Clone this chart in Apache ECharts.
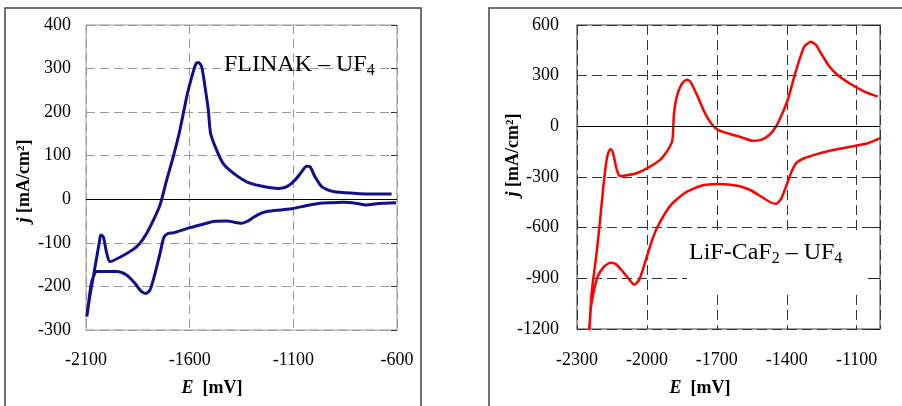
<!DOCTYPE html>
<html>
<head>
<meta charset="utf-8">
<script src="https://cdn.jsdelivr.net/npm/echarts@6/dist/echarts.min.js"></script>
<style>
html,body{margin:0;padding:0;background:#fff;}
#c{width:902px;height:406px;}
</style>
</head>
<body>
<div id="c"></div>
<script>
// ---------- FLINAK – UF4 (left panel) ----------
// sweep order: cathodic branch (right -> left), then anodic branch (left -> right)
const flinakE = [-605,-660,-700,-746,-800,-859,-907,-971,-1040,-1100,-1150,-1228,-1270,-1300,-1320,-1349,-1421,-1486,-1518,-1598,-1679,-1703,-1724,-1743,-1767,-1791,-1811,-1832,-1864,-1904,-1952,-2000,-2048,-2065,-2075,-2084,-2096,
  -2084,-2073,-2060,-2048,-2036,-2029,-2017,-2008,-2000,-1984,-1936,-1872,-1840,-1807,-1775,-1746,-1735,-1711,-1679,-1647,-1614,-1590,-1569,-1558,-1542,-1526,-1510,-1499,-1470,-1438,-1389,-1325,-1261,-1172,-1132,-1092,-1060,-1036,-1020,-996,-963,-907,-811,-700,-626];
const flinakJ = [-8,-9,-10,-13,-9,-7,-8,-9,-15,-21,-24,-28,-35,-44,-50,-55,-50,-51,-55,-65,-77,-78,-87,-124,-170,-208,-216,-212,-193,-174,-166,-166,-166,-178,-195,-224,-269,
  -230,-200,-165,-132,-100,-82,-86,-105,-124,-143,-133,-115,-101,-78,-48,-17,0,44,98,159,236,281,312,314,304,258,205,151,113,82,60,40,31,25,29,44,63,76,75,52,29,18,14,12,12];

// ---------- LiF-CaF2 – UF4 (right panel) ----------
const lifE = [-1000,-1053,-1124,-1196,-1267,-1325,-1360,-1382,-1403,-1425,-1446,-1468,-1511,-1553,-1611,-1696,-1768,-1839,-1897,-1954,-1982,-2011,-2033,-2054,-2075,-2104,-2133,-2157,-2183,-2211,-2230,-2240,-2247,-2253,
  -2245,-2238,-2230,-2216,-2201,-2187,-2173,-2164,-2156,-2149,-2140,-2133,-2125,-2116,-2080,-2044,-1987,-1944,-1915,-1900,-1892,-1888,-1884,-1872,-1855,-1840,-1826,-1811,-1782,-1754,-1725,-1696,-1654,-1596,-1546,-1511,-1475,-1446,-1425,-1396,-1368,-1346,-1325,-1297,-1275,-1253,-1217,-1182,-1124,-1067,-1010];
const lifJ = [-70,-100,-120,-139,-163,-189,-218,-277,-356,-431,-459,-451,-415,-380,-352,-342,-352,-396,-465,-593,-691,-820,-908,-938,-908,-859,-816,-808,-829,-888,-989,-1067,-1204,-1290,
  -1150,-1000,-900,-752,-555,-357,-199,-150,-136,-145,-190,-238,-275,-294,-288,-278,-239,-199,-150,-115,-90,-40,77,176,240,268,276,259,176,87,18,-21,-41,-64,-86,-80,-51,-1,58,156,294,393,472,501,482,432,354,304,249,206,176];

// axis ticks
const flinakXTicks = {min:-2100, max:-600, interval:500};
const flinakYTicks = {min:-300, max:400, interval:100};
const lifXTicks = {min:-2300, max:-1000, interval:300};
const lifYTicks = {min:-1200, max:600, interval:300};

const FONT = '"Liberation Serif","Times New Roman",serif';
const pairs = (xs, ys) => xs.map((x, i) => [x, ys[i]]);
const plain = v => String(v);

const chart = echarts.init(document.getElementById('c'), null, {renderer:'canvas'});

function xAx(grid, t, gridColor, dash, margin, hideMax){
  return {
    gridIndex: grid, type:'value', min:t.min, max:t.max, interval:t.interval,
    axisLine:{show:false}, axisTick:{show:false},
    axisLabel:{margin:margin, fontSize:18, color:'#000', fontFamily:FONT, showMaxLabel: !hideMax, formatter:plain},
    splitLine:{show:true, lineStyle:{color:gridColor, width:1, type:dash}}
  };
}
function yAx(grid, t, gridColor, dash, margin){
  return {
    gridIndex: grid, type:'value', min:t.min, max:t.max, interval:t.interval,
    axisLine:{show:false},
    axisTick:{show:false},
    axisLabel:{margin:margin, fontSize:18, color:'#000', fontFamily:FONT, formatter:plain},
    splitLine:{show:true, lineStyle:{color:gridColor, width:1, type:dash}}
  };
}
function yRight(grid, t, len, color){
  return {
    gridIndex: grid, type:'value', position:'right', min:t.min, max:t.max, interval:t.interval,
    axisLine:{show:false}, axisLabel:{show:false}, splitLine:{show:false},
    axisTick:{show:true, inside:true, length:len, lineStyle:{color:color, width:1}}
  };
}

const zeroLine = {
  silent:true, symbol:['none','none'], label:{show:false},
  lineStyle:{color:'#000', width:1, type:'solid'},
  data:[{yAxis:0}], animation:false
};

const titleRich = {
  e:{fontFamily:FONT, fontSize:18, fontWeight:'bold', fontStyle:'italic', fill:'#000'},
  b:{fontFamily:FONT, fontSize:18, fontWeight:'bold', fill:'#000'}
};
const annoRich = {
  m:{fontFamily:FONT, fontSize:24, lineHeight:27, fill:'#000'},
  s:{fontFamily:FONT, fontSize:16, lineHeight:16, verticalAlign:'bottom', fill:'#000'}
};

const option = {
  animation:false,
  backgroundColor:'#fff',
  grid:[
    {left:86, top:25, width:311, height:305, show:true, borderColor:'#999', borderWidth:1, backgroundColor:'transparent'},
    {left:577, top:25, width:303, height:304, show:true, borderColor:'#808080', borderWidth:1.5, backgroundColor:'transparent'}
  ],
  xAxis:[
    xAx(0, flinakXTicks, '#9a9a9a', [9,5], 21, false),
    xAx(1, lifXTicks, '#333', [10,5], 22, true)
  ],
  yAxis:[
    yAx(0, flinakYTicks, '#9a9a9a', [9,5], 15),
    yRight(0, flinakYTicks, 6, '#333'),
    yAx(1, lifYTicks, '#333', [10,5], 18),
    yRight(1, lifYTicks, 10, '#222')
  ],
  series:[
    {type:'line', xAxisIndex:0, yAxisIndex:0, data:pairs(flinakE, flinakJ), showSymbol:false, smooth:0.25,
     lineStyle:{color:'#10108a', width:3}, itemStyle:{color:'#10108a'}, clip:true, z:3, markLine:zeroLine},
    {type:'line', xAxisIndex:1, yAxisIndex:2, data:pairs(lifE, lifJ), showSymbol:false, smooth:0.2,
     lineStyle:{color:'#ff0000', width:2.5}, itemStyle:{color:'#ff0000'}, clip:true, z:3, markLine:zeroLine}
  ],
  graphic:[
    {type:'rect', z:0, silent:true, shape:{x:5, y:8, width:416, height:430}, style:{fill:'none', stroke:'#444', lineWidth:1.5}},
    {type:'rect', z:0, silent:true, shape:{x:489, y:8, width:460, height:430}, style:{fill:'none', stroke:'#444', lineWidth:1.5}},
    // white label box in right panel
    {type:'rect', z:1, silent:true, shape:{x:687, y:230, width:181, height:60}, style:{fill:'#fff'}},
    {type:'text', z:5, silent:true, x:224, y:65,
     style:{text:'{m|FLINAK – UF}{s|4}', rich:annoRich, textVerticalAlign:'middle', textAlign:'left'}},
    {type:'text', z:5, silent:true, x:689, y:253,
     style:{text:'{m|LiF-CaF}{s|2}{m| – UF}{s|4}', rich:annoRich, textVerticalAlign:'middle', textAlign:'left'}},
    // axis titles
    {type:'text', z:5, silent:true, x:212, y:388,
     style:{text:'{e|E}{b|  [mV]}', rich:titleRich, textAlign:'center', textVerticalAlign:'middle'}},
    {type:'text', z:5, silent:true, x:700, y:388,
     style:{text:'{e|E}{b|  [mV]}', rich:titleRich, textAlign:'center', textVerticalAlign:'middle'}},
    {type:'text', z:5, silent:true, x:24, y:181, rotation:Math.PI/2,
     style:{text:'{e|j}{b| [mA/cm²]}', rich:titleRich, textAlign:'center', textVerticalAlign:'middle'}},
    {type:'text', z:5, silent:true, x:513, y:155, rotation:Math.PI/2,
     style:{text:'{e|j}{b| [mA/cm²]}', rich:titleRich, textAlign:'center', textVerticalAlign:'middle'}}
  ]
};
chart.setOption(option);
</script>
</body>
</html>
